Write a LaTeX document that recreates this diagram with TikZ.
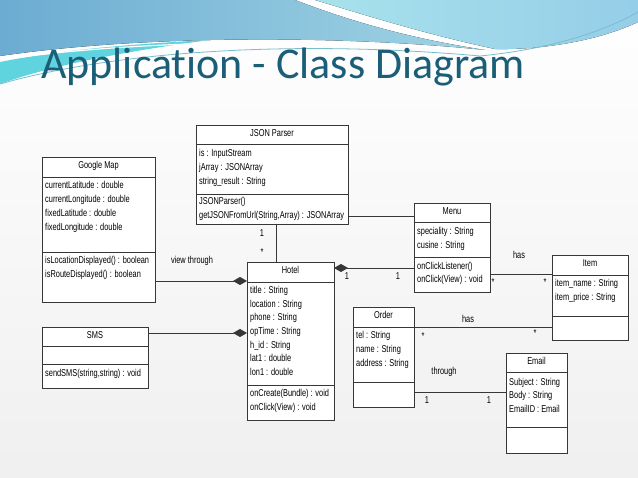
\documentclass[tikz,border=0pt]{standalone}
\usepackage{fontspec}
\usetikzlibrary{arrows.meta,calc}
\newfontfamily\umlfont[FakeStretch=0.74]{Liberation Sans}
\newfontfamily\titlefont[Ligatures=NoCommon]{Carlito}
\definecolor{titlecol}{RGB}{27,94,120}
\definecolor{boxline}{RGB}{55,55,55}
\definecolor{waveblueA}{RGB}{108,172,210}
\definecolor{waveblueB}{RGB}{160,212,228}
\definecolor{wavecyan}{RGB}{95,212,222}
\definecolor{wavelight}{RGB}{168,226,236}
\definecolor{wavelightB}{RGB}{150,205,232}
\definecolor{waveline}{RGB}{120,190,205}
\newcommand\umlbox[8]{%
  \node[classbox, minimum width={#3-#2}, minimum height={#7-#4}] (#1) at (#2,#4) {};
  \draw[sep] (#1.west |- 0,#5) -- (#1.east |- 0,#5);
  \draw[sep] (#1.west |- 0,#6) -- (#1.east |- 0,#6);
  \node[ctitle] (#1-t) at ({(#2+#3)/2},{(#4+#5)/2+2}) {#8};
}
\newcommand\umlrows[6]{%
  \foreach \t [count=\i from 0] in {#6}
    \node[row] (#1-#2\i) at ({#3+3},{#4+#5*\i}) {\t};
}
\begin{document}
\begin{tikzpicture}[x=1pt,y=-1pt,
  classbox/.style={draw=boxline, line width=0.9pt, fill=white, anchor=north west, inner sep=0pt, outer sep=0pt},
  sep/.style={draw=boxline, line width=0.9pt},
  row/.style={anchor=base west, inner sep=0pt, font=\umlfont\fontsize{10}{12}\selectfont},
  ctitle/.style={anchor=base, inner sep=0pt, font=\umlfont\fontsize{10}{12}\selectfont},
  lbl/.style={anchor=center, inner sep=0pt, font=\umlfont\fontsize{10}{12}\selectfont},
  conn/.style={draw=boxline, line width=0.9pt},
  dia/.style={-{Diamond[length=14pt,width=8pt]}},
  diarev/.style={{Diamond[length=14pt,width=8pt]}-}
]
\useasboundingbox (0,0) rectangle (638,478);
% background
\fill[top color=white, bottom color=black!6] (0,0) rectangle (638,478);
% waves
\fill[left color=waveblueA, right color=waveblueB]
  (0,0) -- (295,0) .. controls (360,25) and (420,40) .. (485,50)
  .. controls (350,36) and (150,34) .. (0,56) -- cycle;
\fill[left color=wavelight, right color=wavelightB]
  (315,0) -- (638,0) -- (638,22) .. controls (600,40) and (545,50) .. (495,49)
  .. controls (425,34) and (365,15) .. (315,0) -- cycle;
\fill[wavecyan]
  (0,62) .. controls (60,50) and (130,44) .. (210,40)
  .. controls (120,52) and (50,66) .. (0,84) -- cycle;
\draw[waveline, line width=0.8pt]
  (0,84) .. controls (120,50) and (300,40) .. (480,56) .. controls (560,48) and (610,28) .. (638,12);
\draw[white, line width=1.2pt]
  (0,60) .. controls (120,42) and (300,36) .. (486,52);
% title
\node[anchor=base west, inner sep=0pt, text=titlecol, font=\titlefont\fontsize{44}{50}\selectfont] (title) at (41,79) {Application - Class Diagram};

% classes
\umlbox{json}{196}{348}{125}{144}{194}{224}{JSON Parser}
\umlrows{json}{a}{196}{156.5}{14}{is : InputStream, jArray : JSONArray, string\_result : String}
\umlrows{json}{m}{196}{204.5}{14}{JSONParser(), {getJSONFromUrl(String,Array) : JSONArray}}

\umlbox{gm}{42}{155}{157}{177}{252}{302}{Google Map}
\umlrows{gm}{a}{42}{188.5}{14}{currentLatitude : double, currentLongitude : double, fixedLatitude : double, fixedLongitude : double}
\umlrows{gm}{m}{42}{263.5}{14}{isLocationDisplayed() : boolean, isRouteDisplayed() : boolean}

\umlbox{sms}{42}{148}{327}{346}{364}{388}{SMS}
\umlrows{sms}{m}{42}{376.5}{14}{{sendSMS(string,string) : void}}

\umlbox{hotel}{247}{334}{262}{282}{385}{420}{Hotel}
\umlrows{hotel}{a}{247}{293.5}{13.7}{title : String, location : String, phone : String, opTime : String, h\_id : String, lat1 : double, lon1 : double}
\umlrows{hotel}{m}{247}{396.5}{14}{onCreate(Bundle) : void, onClick(View) : void}

\umlbox{menu}{414}{490}{203}{222}{257}{292}{Menu}
\umlrows{menu}{a}{414}{234.5}{14}{speciality : String, cusine : String}
\umlrows{menu}{m}{414}{269.5}{13.5}{onClickListener(), onClick(View) : void}

\umlbox{item}{552}{628}{255}{275}{316}{340}{Item}
\umlrows{item}{a}{552}{286.5}{14}{item\_name : String, item\_price : String}

\umlbox{order}{353}{414}{307}{327}{382}{407}{Order}
\umlrows{order}{a}{353}{338.5}{14}{tel : String, name : String, address : String}

\umlbox{email}{506}{567}{353}{372}{427}{453}{Email}
\umlrows{email}{a}{506}{385.5}{13.5}{Subject : String, Body : String, EmailID : Email}

% connectors
\draw[conn] (json.east |- 0,216) -- (menu.west |- 0,216);
\draw[conn] (json.south -| 276,0) -- (hotel.north -| 276,0);
\node[lbl] (c1a) at (262,233) {1};
\node[lbl] (c1b) at (262,252) {*};

\draw[conn, dia] (gm.east |- 0,281) -- (hotel.west |- 0,281);
\node[lbl] (c2) at (192,261) {view through};

\draw[conn, dia] (sms.east |- 0,333) -- (hotel.west |- 0,333);

\draw[conn, diarev] (hotel.east |- 0,268) -- (menu.west |- 0,268);
\node[lbl] (c3a) at (347,276) {1};
\node[lbl] (c3b) at (398,276) {1};

\draw[conn] (menu.east |- 0,274) -- (item.west |- 0,274);
\node[lbl] (c4) at (519,255) {has};
\node[lbl] (c4a) at (493,282) {*};
\node[lbl] (c4b) at (545,282) {*};

\draw[conn] (order.east |- 0,327) -- (item.west |- 0,327);
\node[lbl] (c5) at (468,319) {has};
\node[lbl] (c5a) at (423,336) {*};
\node[lbl] (c5b) at (535,333) {*};

\draw[conn] (order.east |- 0,392) -- (email.west |- 0,392);
\node[lbl] (c6) at (444,372) {through};
\node[lbl] (c6a) at (427,400) {1};
\node[lbl] (c6b) at (489,400) {1};
\end{tikzpicture}
\end{document}
